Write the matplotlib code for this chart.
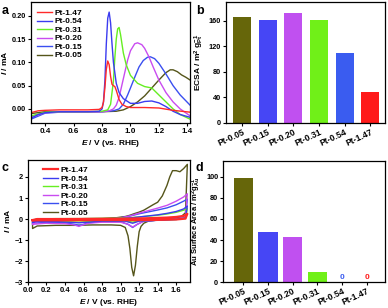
import matplotlib
matplotlib.use("Agg")
import matplotlib.pyplot as plt

plt.rcParams["font.family"] = ["Liberation Sans", "DejaVu Sans"]
plt.rcParams["font.weight"] = "bold"
plt.rcParams["axes.labelweight"] = "bold"
plt.rcParams["mathtext.fontset"] = "custom"
plt.rcParams["mathtext.rm"] = "Liberation Sans:bold"
plt.rcParams["mathtext.bf"] = "Liberation Sans:bold"
plt.rcParams["mathtext.it"] = "Liberation Sans:italic:bold"
plt.rcParams["axes.linewidth"] = 0.9
plt.rcParams["xtick.major.width"] = 0.8
plt.rcParams["ytick.major.width"] = 0.8
plt.rcParams["xtick.major.size"] = 2
plt.rcParams["ytick.major.size"] = 2

# ---- samples / colours ----
samples = ["Pt-0.05", "Pt-0.15", "Pt-0.20", "Pt-0.31", "Pt-0.54", "Pt-1.47"]
colors = {
    "Pt-0.05": "#55551a",
    "Pt-0.15": "#3a4ff0",
    "Pt-0.20": "#c94cf0",
    "Pt-0.31": "#66ee22",
    "Pt-0.54": "#3b3bf0",
    "Pt-1.47": "#ff2a2a",
}
bar_colors = ["#66660a", "#4646f5", "#c050f0", "#70f018", "#3a5cf0", "#ff1a1a"]

# ---- panel a: LSV curves ----
a_x_147 = [0.30, 0.35, 0.40, 0.50, 0.60, 0.70, 0.78, 0.80, 0.81, 0.82, 0.83, 0.84, 0.85, 0.86,
           0.87, 0.88, 0.89, 0.90, 0.92, 0.94, 0.97, 1.00, 1.10, 1.20, 1.30, 1.42]
a_y_147 = [-0.008, -0.004, -0.003, -0.002, -0.002, -0.002, -0.001, 0.003, 0.015, 0.045, 0.085,
           0.103, 0.095, 0.070, 0.053, 0.050, 0.048, 0.040, 0.020, 0.010, 0.005, 0.003, 0.003,
           0.002, -0.003, -0.007]
a_x_054 = [0.30, 0.35, 0.40, 0.50, 0.60, 0.70, 0.78, 0.80, 0.81, 0.82, 0.83, 0.84, 0.85, 0.86,
           0.87, 0.88, 0.90, 0.92, 0.95, 1.00, 1.05, 1.10, 1.15, 1.20, 1.25, 1.30, 1.35, 1.42]
a_y_054 = [-0.020, -0.012, -0.008, -0.006, -0.006, -0.006, -0.005, 0.000, 0.015, 0.060, 0.140,
           0.195, 0.208, 0.185, 0.140, 0.100, 0.055, 0.035, 0.022, 0.012, 0.012, 0.016, 0.017,
           0.013, 0.005, -0.005, -0.012, -0.018]
a_x_031 = [0.30, 0.40, 0.50, 0.60, 0.70, 0.80, 0.84, 0.86, 0.88, 0.89, 0.90, 0.91, 0.92, 0.93,
           0.95, 0.97, 1.00, 1.05, 1.10, 1.15, 1.20, 1.25, 1.30, 1.35, 1.42]
a_y_031 = [-0.015, -0.007, -0.006, -0.006, -0.006, -0.005, -0.002, 0.010, 0.060, 0.110, 0.150,
           0.172, 0.175, 0.160, 0.120, 0.095, 0.072, 0.055, 0.048, 0.045, 0.030, 0.015, 0.000,
           -0.012, -0.022]
a_x_020 = [0.30, 0.40, 0.50, 0.60, 0.70, 0.80, 0.85, 0.88, 0.90, 0.92, 0.95, 0.98, 1.00, 1.03,
           1.05, 1.08, 1.10, 1.13, 1.16, 1.20, 1.25, 1.30, 1.35, 1.42]
a_y_020 = [-0.018, -0.008, -0.007, -0.007, -0.007, -0.006, -0.004, 0.000, 0.008, 0.025, 0.065,
           0.105, 0.125, 0.140, 0.142, 0.138, 0.130, 0.112, 0.090, 0.062, 0.035, 0.015, 0.000,
           -0.015]
a_x_015 = [0.30, 0.40, 0.50, 0.60, 0.70, 0.80, 0.88, 0.92, 0.95, 0.98, 1.00, 1.03, 1.06, 1.09,
           1.12, 1.14, 1.17, 1.20, 1.25, 1.30, 1.35, 1.42]
a_y_015 = [-0.022, -0.009, -0.007, -0.007, -0.007, -0.006, -0.004, 0.000, 0.010, 0.030, 0.045,
           0.068, 0.090, 0.104, 0.111, 0.112, 0.108, 0.098, 0.075, 0.050, 0.030, 0.008]
a_x_005 = [0.30, 0.40, 0.50, 0.60, 0.70, 0.80, 0.90, 0.95, 1.00, 1.05, 1.10, 1.15, 1.20, 1.25,
           1.28, 1.30, 1.33, 1.36, 1.39, 1.42]
a_y_005 = [-0.010, -0.006, -0.006, -0.006, -0.006, -0.006, -0.005, -0.002, 0.005, 0.015, 0.028,
           0.045, 0.062, 0.078, 0.084, 0.084, 0.080, 0.073, 0.068, 0.062]

# ---- panel b: ECSA ----
ecsa = [167, 161, 173, 162, 110, 49]

# ---- panel c: CV loops (forward then reverse sweep) ----
c_e_005 = [0.05, 0.10, 0.20, 0.40, 0.60, 0.80, 0.95, 1.05, 1.10, 1.15, 1.20, 1.25, 1.30, 1.35,
           1.40, 1.45, 1.50, 1.53, 1.56, 1.60, 1.64, 1.68, 1.72,
           1.70, 1.65, 1.60, 1.50, 1.40, 1.30, 1.25, 1.22, 1.20, 1.18, 1.16, 1.14, 1.12, 1.10,
           1.08, 1.05, 1.00, 0.90, 0.70, 0.50, 0.30, 0.10, 0.05, 0.05]
c_i_005 = [-0.05, 0.00, 0.00, 0.00, 0.02, 0.03, 0.06, 0.12, 0.18, 0.26, 0.33, 0.42, 0.55, 0.68,
           0.80, 1.10, 1.60, 2.00, 2.30, 2.30, 2.25, 2.40, 2.60,
           0.30, 0.10, 0.05, 0.00, -0.05, -0.10, -0.20, -0.35, -0.60, -1.30, -2.20, -2.70, -2.30,
           -1.40, -0.80, -0.40, -0.30, -0.28, -0.28, -0.30, -0.30, -0.33, -0.45, -0.05]
c_e_015 = [0.05, 0.10, 0.30, 0.50, 0.70, 0.90, 1.00, 1.10, 1.20, 1.30, 1.40, 1.50, 1.60, 1.68,
           1.72, 1.70, 1.60, 1.40, 1.25, 1.18, 1.13, 1.08, 1.00, 0.80, 0.65, 0.58, 0.55, 0.50,
           0.40, 0.20, 0.05, 0.05]
c_i_015 = [-0.20, -0.08, -0.06, -0.03, -0.01, 0.02, 0.06, 0.14, 0.25, 0.34, 0.43, 0.53, 0.68,
           0.85, 0.95, 0.10, 0.02, -0.05, -0.10, -0.25, -0.40, -0.25, -0.12, -0.12, -0.18, -0.28,
           -0.30, -0.25, -0.18, -0.16, -0.20, -0.20]
c_e_020 = [0.05, 0.10, 0.30, 0.50, 0.70, 0.90, 1.00, 1.10, 1.20, 1.30, 1.40, 1.50, 1.60, 1.68,
           1.72, 1.70, 1.60, 1.40, 1.25, 1.18, 1.13, 1.08, 1.00, 0.80, 0.65, 0.58, 0.55, 0.50,
           0.40, 0.20, 0.05, 0.05]
c_i_020 = [-0.25, -0.12, -0.10, -0.05, -0.02, 0.00, 0.05, 0.15, 0.28, 0.40, 0.52, 0.65, 0.85,
           1.05, 1.20, 0.10, 0.00, -0.05, -0.10, -0.25, -0.38, -0.25, -0.15, -0.15, -0.20, -0.30,
           -0.35, -0.28, -0.22, -0.20, -0.25, -0.25]
c_e_031 = [0.05, 0.10, 0.30, 0.60, 0.90, 1.10, 1.20, 1.30, 1.40, 1.50, 1.60, 1.68, 1.72,
           1.70, 1.60, 1.40, 1.20, 1.13, 1.05, 0.80, 0.55, 0.30, 0.10, 0.05, 0.05]
c_i_031 = [-0.10, 0.00, 0.02, 0.02, 0.03, 0.06, 0.10, 0.14, 0.18, 0.24, 0.32, 0.42, 0.50,
           0.05, -0.02, -0.05, -0.08, -0.15, -0.08, -0.08, -0.15, -0.10, -0.10, -0.12, -0.10]
c_e_054 = [0.05, 0.10, 0.30, 0.60, 0.90, 1.10, 1.20, 1.30, 1.40, 1.50, 1.60, 1.68, 1.72,
           1.70, 1.60, 1.40, 1.20, 1.13, 1.05, 0.80, 0.55, 0.30, 0.10, 0.05, 0.05]
c_i_054 = [-0.15, -0.05, -0.03, -0.02, 0.00, 0.05, 0.10, 0.15, 0.20, 0.27, 0.36, 0.48, 0.62,
           0.05, -0.02, -0.06, -0.10, -0.20, -0.10, -0.10, -0.18, -0.12, -0.12, -0.15, -0.15]
c_e_147 = [0.05, 0.10, 0.40, 0.80, 1.10, 1.30, 1.50, 1.60, 1.68, 1.72,
           1.70, 1.60, 1.40, 1.20, 1.00, 0.70, 0.40, 0.10, 0.05, 0.05]
c_i_147 = [-0.05, 0.00, 0.00, 0.01, 0.02, 0.04, 0.07, 0.10, 0.15, 0.25,
           0.02, -0.02, -0.04, -0.05, -0.05, -0.05, -0.06, -0.06, -0.07, -0.05]

# ---- panel d: Au surface area ----
au_area = [99, 48, 43, 10, 0, 0]

fig = plt.figure(figsize=(3.88, 3.08), dpi=100)

lab_fs = 6
xtick_fs = 5.8
ytick_fs = 5.3


def style_axes(ax, xfs=xtick_fs):
    ax.tick_params(direction="out", pad=1.5, top=False, right=False)
    ax.tick_params(axis="x", labelsize=xfs)
    ax.tick_params(axis="y", labelsize=ytick_fs)
    for lab in ax.get_xticklabels() + ax.get_yticklabels():
        lab.set_fontweight("bold")


# panel a
ax = fig.add_axes([0.080, 0.601, 0.410, 0.393])
curves_a = [
    ("Pt-0.05", a_x_005, a_y_005),
    ("Pt-0.15", a_x_015, a_y_015),
    ("Pt-0.20", a_x_020, a_y_020),
    ("Pt-0.31", a_x_031, a_y_031),
    ("Pt-0.54", a_x_054, a_y_054),
    ("Pt-1.47", a_x_147, a_y_147),
]
handles = {}
for name, xs, ys in curves_a:
    handles[name], = ax.plot(xs, ys, color=colors[name], lw=1.0, label=name)
order = ["Pt-1.47", "Pt-0.54", "Pt-0.31", "Pt-0.20", "Pt-0.15", "Pt-0.05"]
ax.legend([handles[n] for n in order], order, loc="upper left", bbox_to_anchor=(0.04, 0.94),
          frameon=False, fontsize=lab_fs, handlelength=1.8, handletextpad=0.3,
          labelspacing=0.08, borderpad=0, borderaxespad=0)
ax.set_xlim(0.3, 1.42)
ax.set_ylim(-0.03, 0.23)
ax.set_xticks([0.4, 0.6, 0.8, 1.0, 1.2, 1.4])
ax.set_yticks([0.0, 0.05, 0.10, 0.15, 0.20])
ax.set_yticklabels(["0.00", "0.05", "0.10", "0.15", "0.20"])
ax.set_xticklabels(["0.4", "0.6", "0.8", "1.0", "1.2", "1.4"])
ax.set_xlabel(r"$\mathit{E}$ / V (vs. RHE)", fontsize=lab_fs, labelpad=2)
ax.set_ylabel(r"$\mathit{I}$ / mA", fontsize=lab_fs, labelpad=2)
style_axes(ax)

# panel b
ax = fig.add_axes([0.582, 0.601, 0.410, 0.393])
ax.bar(range(len(samples)), ecsa, width=0.7, color=bar_colors)
ax.set_xlim(-0.63, 5.57)
ax.set_ylim(0, 190)
ax.set_yticks([0, 40, 80, 120, 160])
ax.set_xticks(range(len(samples)))
ax.set_xticklabels(samples, rotation=25, ha="right", rotation_mode="anchor")
ax.set_ylabel(r"ECSA / m$^{2}$ g$^{-1}_{\mathrm{Pt}}$", fontsize=lab_fs, labelpad=2)
style_axes(ax, xfs=6.2)

# panel c
ax = fig.add_axes([0.072, 0.084, 0.418, 0.396])
curves_c = [
    ("Pt-0.05", c_e_005, c_i_005),
    ("Pt-0.15", c_e_015, c_i_015),
    ("Pt-0.20", c_e_020, c_i_020),
    ("Pt-0.31", c_e_031, c_i_031),
    ("Pt-0.54", c_e_054, c_i_054),
    ("Pt-1.47", c_e_147, c_i_147),
]
handles = {}
for name, xs, ys in curves_c:
    lw = 1.6 if name == "Pt-1.47" else 1.0
    handles[name], = ax.plot(xs, ys, color=colors[name], lw=lw, label=name)
ax.legend([handles[n] for n in order], order, loc="upper left", bbox_to_anchor=(0.09, 0.95),
          frameon=False, fontsize=lab_fs, handlelength=1.8, handletextpad=0.3,
          labelspacing=0.08, borderpad=0, borderaxespad=0)
ax.set_xlim(0, 1.75)
ax.set_ylim(-3, 2.8)
ax.set_xticks([0.0, 0.2, 0.4, 0.6, 0.8, 1.0, 1.2, 1.4, 1.6])
ax.set_xticklabels(["0.0", "0.2", "0.4", "0.6", "0.8", "1.0", "1.2", "1.4", "1.6"])
ax.set_yticks([-3, -2, -1, 0, 1, 2])
ax.set_xlabel(r"$\mathit{E}$ / V (vs. RHE)", fontsize=lab_fs, labelpad=2)
ax.set_ylabel(r"$\mathit{I}$ / mA", fontsize=lab_fs, labelpad=2)
style_axes(ax, xfs=5.5)

# panel d
ax = fig.add_axes([0.575, 0.084, 0.418, 0.393])
ax.bar(range(len(samples)), au_area, width=0.78, color=bar_colors)
for i, v in enumerate(au_area):
    if v == 0:
        ax.text(i, v + 1.5, "0", ha="center", va="bottom", fontsize=lab_fs,
                fontweight="bold", color=bar_colors[i])
ax.set_xlim(-0.82, 5.75)
ax.set_ylim(0, 115)
ax.set_yticks([0, 20, 40, 60, 80, 100])
ax.set_xticks(range(len(samples)))
ax.set_xticklabels(samples, rotation=25, ha="right", rotation_mode="anchor")
ax.set_ylabel(r"Au Surface Area / m$^{2}$g$^{-1}_{\mathrm{Au}}$", fontsize=5.5, labelpad=2)
style_axes(ax, xfs=6.2)

# panel letters
fig.text(0.005, 0.985, "a", fontsize=9, fontweight="bold", va="top")
fig.text(0.505, 0.985, "b", fontsize=9, fontweight="bold", va="top")
fig.text(0.005, 0.475, "c", fontsize=9, fontweight="bold", va="top")
fig.text(0.505, 0.475, "d", fontsize=9, fontweight="bold", va="top")

fig.savefig("out.png", dpi=100)
